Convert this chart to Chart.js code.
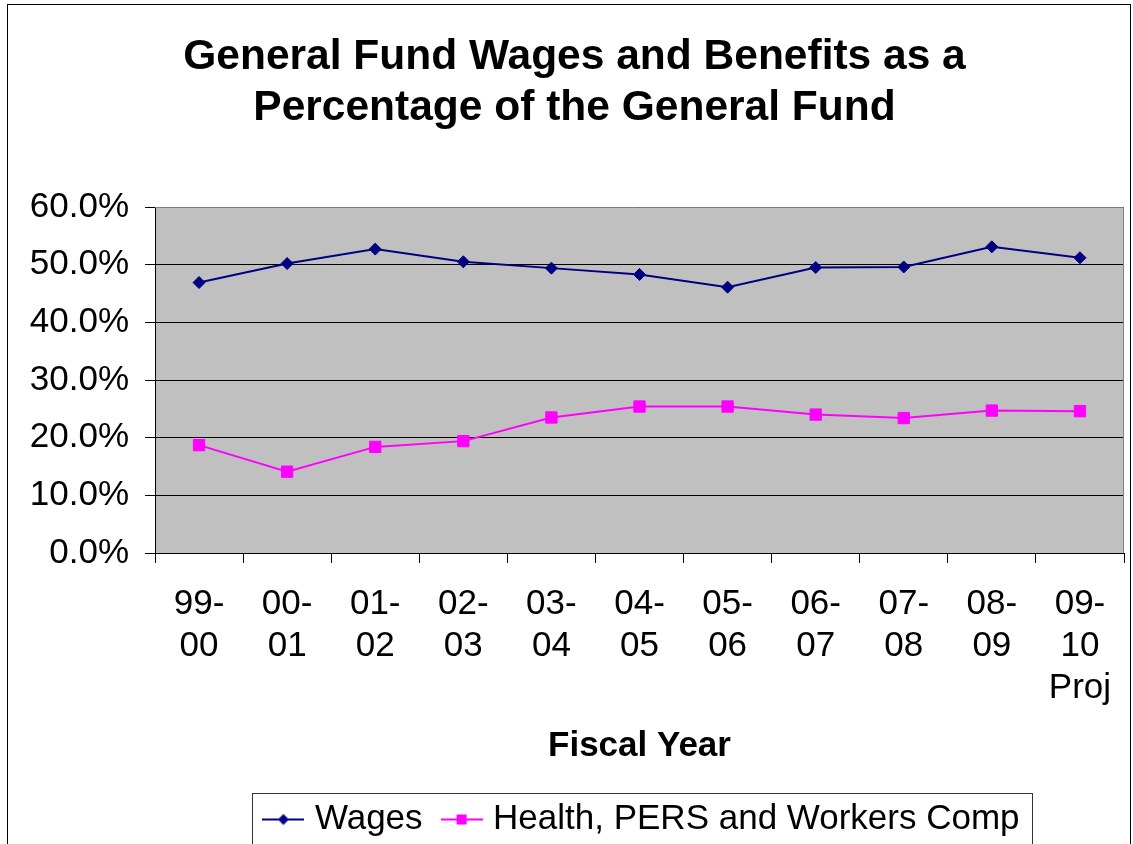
<!DOCTYPE html>
<html>
<head>
<meta charset="utf-8">
<script src="https://cdn.jsdelivr.net/npm/chart.js@4/dist/chart.umd.min.js"></script>
<style>
  html, body { margin: 0; padding: 0; background: #fff; }
  #wrap { width: 1133px; height: 844px; }
</style>
</head>
<body>
<div id="wrap"><canvas id="c" width="1133" height="844"></canvas></div>
<script>
const categories = [
  ['99-', '00'], ['00-', '01'], ['01-', '02'], ['02-', '03'], ['03-', '04'],
  ['04-', '05'], ['05-', '06'], ['06-', '07'], ['07-', '08'], ['08-', '09'],
  ['09-', '10', 'Proj']
];
const wages = [46.9, 50.2, 52.7, 50.5, 49.4, 48.3, 46.1, 49.5, 49.6, 53.1, 51.2];
const healthPersWc = [18.7, 14.1, 18.4, 19.4, 23.5, 25.4, 25.4, 24.0, 23.4, 24.7, 24.6];
const seriesNames = ['Wages', 'Health, PERS and Workers Comp'];
const yTicks = { min: 0, max: 60, step: 10 };
const titleLines = ['General Fund Wages and Benefits as a', 'Percentage of the General Fund'];
const xTitle = 'Fiscal Year';

const FONT = "'Liberation Sans', Arial, Helvetica, sans-serif";
const NAVY = '#000080';
const MAGENTA = '#FF00FF';

function legendImage(color, shape) {
  const c = document.createElement('canvas');
  c.width = 42; c.height = 16;
  const g = c.getContext('2d');
  g.strokeStyle = color; g.lineWidth = 2;
  g.beginPath(); g.moveTo(0, 8); g.lineTo(42, 8); g.stroke();
  g.fillStyle = color;
  if (shape === 'diamond') {
    g.beginPath(); g.moveTo(21, 2.5); g.lineTo(26.5, 8); g.lineTo(21, 13.5); g.lineTo(15.5, 8); g.closePath(); g.fill();
  } else {
    g.fillRect(16, 3, 10, 10);
  }
  return c;
}
const legendImgs = [legendImage(NAVY, 'diamond'), legendImage(MAGENTA, 'square')];

const decor = {
  id: 'decor',
  afterLayout(chart) {
    const lg = chart.legend;
    const ca = chart.chartArea;
    if (lg) { lg.left = ca.left + 5; lg.right = ca.right + 5; lg.width = lg.right - lg.left; }
    if (chart.titleBlock) { chart.titleBlock.left = 25; chart.titleBlock.width = chart.titleBlock.right - 25; }
  },
  beforeDraw(chart) {
    const ctx = chart.ctx, ca = chart.chartArea;
    ctx.save();
    ctx.fillStyle = '#fff';
    ctx.fillRect(0, 0, chart.width, chart.height);
    ctx.fillStyle = '#C0C0C0';
    ctx.fillRect(ca.left, ca.top, ca.right - ca.left, ca.bottom - ca.top);
    ctx.strokeStyle = '#000'; ctx.lineWidth = 1;
    ctx.strokeRect(7.5, 4.5, 1123, 900);
    ctx.restore();
  },
  beforeDatasetsDraw(chart) {
    const ctx = chart.ctx, ca = chart.chartArea;
    ctx.save();
    ctx.strokeStyle = '#808080'; ctx.lineWidth = 1;
    ctx.beginPath();
    ctx.moveTo(ca.left, ca.top + 0.5); ctx.lineTo(ca.right - 0.5, ca.top + 0.5);
    ctx.lineTo(ca.right - 0.5, ca.bottom);
    ctx.stroke();
    ctx.restore();
  },
  afterDraw(chart) {
    const lg = chart.legend;
    if (!lg || !lg.legendHitBoxes || !lg.legendHitBoxes.length) return;
    const hb = lg.legendHitBoxes;
    const first = hb[0], last = hb[hb.length - 1];
    const ctx = chart.ctx;
    ctx.save();
    ctx.strokeStyle = '#333'; ctx.lineWidth = 1;
    const l = Math.round(first.left - 17) + 0.5;
    const r = Math.round(last.left + last.width + 12) + 0.5;
    const t = Math.round(first.top - 9) + 0.5;
    const b = Math.round(first.top + first.height + 8) + 0.5;
    ctx.strokeRect(l, t, r - l, b - t);
    ctx.restore();
  }
};

new Chart(document.getElementById('c'), {
  type: 'line',
  data: {
    labels: categories,
    datasets: [
      {
        label: seriesNames[0], data: wages,
        borderColor: NAVY, backgroundColor: NAVY, borderWidth: 2,
        pointStyle: 'rectRot', pointRadius: 6, pointBackgroundColor: NAVY, pointBorderColor: NAVY,
        pointBorderWidth: 1, tension: 0, fill: false
      },
      {
        label: seriesNames[1], data: healthPersWc,
        borderColor: MAGENTA, backgroundColor: MAGENTA, borderWidth: 2,
        pointStyle: 'rect', pointRadius: 8, pointBackgroundColor: MAGENTA, pointBorderColor: MAGENTA,
        pointBorderWidth: 1, tension: 0, fill: false
      }
    ]
  },
  options: {
    responsive: false,
    devicePixelRatio: 1,
    animation: false,
    layout: { padding: { left: 0, right: 9, top: 0, bottom: -3 } },
    plugins: {
      title: {
        display: true,
        text: titleLines,
        color: '#000',
        font: { family: FONT, size: 42.5, weight: 'bold', lineHeight: 1.2 },
        padding: { top: 31.5, bottom: 73.5 }
      },
      legend: {
        display: true,
        position: 'bottom',
        labels: {
          color: '#000',
          font: { family: FONT, size: 35 },
          usePointStyle: true,
          pointStyleWidth: 28,
          padding: 25,
          generateLabels(chart) {
            const base = Chart.defaults.plugins.legend.labels.generateLabels(chart);
            return base.map((l, i) => Object.assign(l, { pointStyle: legendImgs[i] }));
          }
        }
      },
      tooltip: { enabled: false }
    },
    scales: {
      x: {
        type: 'category',
        offset: true,
        afterFit(scale) { scale.height = 224; },
        grid: {
          offset: true, drawOnChartArea: false, drawTicks: true, tickLength: 10,
          color: '#000', lineWidth: 1
        },
        border: { display: true, color: '#000', width: 1 },
        ticks: {
          color: '#000', autoSkip: false, maxRotation: 0, minRotation: 0, padding: 20,
          font: { family: FONT, size: 35, lineHeight: 1.2 }
        },
        title: {
          display: true, text: xTitle, color: '#000',
          font: { family: FONT, size: 35, weight: 'bold', lineHeight: 1.2 },
          padding: { top: 0, bottom: 10 }
        }
      },
      y: {
        min: yTicks.min, max: yTicks.max,
        afterFit(scale) { scale.width = 155; },
        grid: {
          drawOnChartArea: true, drawTicks: true, tickLength: 10,
          color: '#000', lineWidth: 1
        },
        border: { display: true, color: '#000', width: 1 },
        ticks: {
          stepSize: yTicks.step, color: '#000', padding: 16,
          font: { family: FONT, size: 35 },
          callback: (v) => Number(v).toFixed(1) + '%'
        }
      }
    }
  },
  plugins: [decor]
});
</script>
</body>
</html>
